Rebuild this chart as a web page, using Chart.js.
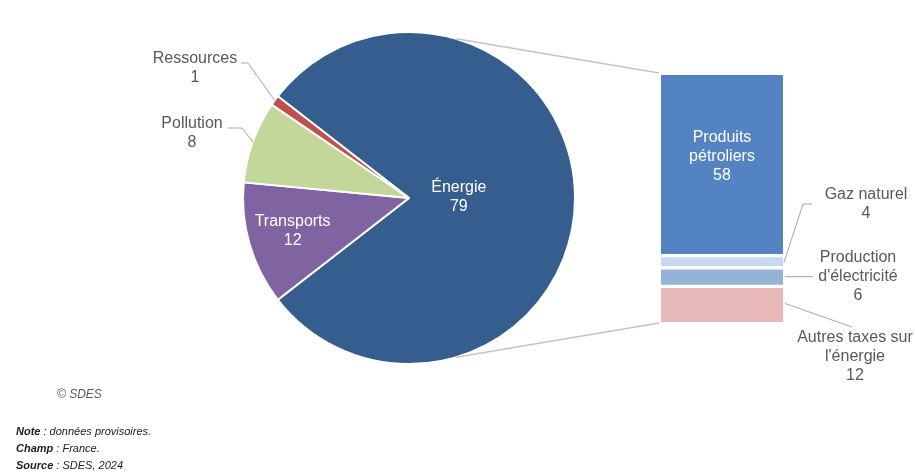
<!DOCTYPE html>
<html lang="fr">
<head>
<meta charset="utf-8">
<script src="https://cdn.jsdelivr.net/npm/chart.js@4/dist/chart.umd.min.js"></script>
<style>
  html, body { margin:0; padding:0; background:#fff; }
  #wrap { position:relative; width:915px; height:472px; overflow:hidden; font-family:"Liberation Sans", Arial, sans-serif; }
  canvas { position:absolute; left:0; top:0; }
  .copy { position:absolute; left:57px; top:387px; font-size:12px; font-style:italic; color:#595959; }
  .notes { position:absolute; left:16px; top:423px; font-size:11px; font-style:italic; color:#222; line-height:17px; }
  .notes b { font-weight:bold; }
</style>
</head>
<body>
<div id="wrap">
  <canvas id="pie" width="915" height="472"></canvas>
  <canvas id="bar" width="915" height="472"></canvas>
  <div class="copy">© SDES</div>
  <div class="notes">
    <div><b>Note</b> : données provisoires.</div>
    <div><b>Champ</b> : France.</div>
    <div><b>Source</b> : SDES, 2024</div>
  </div>
</div>
<script>
// ---- Data ----
const pieCategories = ["Énergie", "Transports", "Pollution", "Ressources"];
const pieValues = [79, 12, 8, 1];
const barCategories = ["Produits pétroliers", "Gaz naturel", "Production d'électricité", "Autres taxes sur l'énergie"];
const barValues = [58, 4, 6, 12];
const barLabelLines = [["Produits", "pétroliers"], ["Gaz naturel"], ["Production", "d'électricité"], ["Autres taxes sur", "l'énergie"]];

// ---- Styles ----
const pieColors = ["#355E8F", "#8064A2", "#C4D79B", "#C0504D"];
const barColors = ["#5383C3", "#C6D9F0", "#95B3D7", "#E6B8B7"];
const FONT = '16px "Liberation Sans", Arial, sans-serif';
const GREY_TXT = "#595959";
const LEADER = "#A6A6A6";

function drawLines(ctx, x, y, lines, color) {
  ctx.save();
  ctx.font = FONT;
  ctx.fillStyle = color;
  ctx.textAlign = "center";
  ctx.textBaseline = "middle";
  lines.forEach((t, i) => ctx.fillText(t, x, y + i * 19));
  ctx.restore();
}
function polyline(ctx, pts, color, w) {
  ctx.save();
  ctx.strokeStyle = color; ctx.lineWidth = w;
  ctx.beginPath();
  ctx.moveTo(pts[0][0], pts[0][1]);
  for (let i = 1; i < pts.length; i++) ctx.lineTo(pts[i][0], pts[i][1]);
  ctx.stroke();
  ctx.restore();
}

const pieLabelPlugin = {
  id: "pieLabels",
  afterDatasetsDraw(chart) {
    const ctx = chart.ctx;
    const arcs = chart.getDatasetMeta(0).data;
    const edge = (a) => {
      const m = (a.startAngle + a.endAngle) / 2;
      return [a.x + a.outerRadius * Math.cos(m), a.y + a.outerRadius * Math.sin(m), m];
    };
    // inside labels
    const inside = { 0: 0.30, 1: 0.73 };
    Object.keys(inside).forEach(k => {
      const a = arcs[k];
      const m = (a.startAngle + a.endAngle) / 2;
      const r = a.outerRadius * inside[k];
      drawLines(ctx, a.x + r * Math.cos(m), a.y + r * Math.sin(m) - 10,
        [pieCategories[k], String(pieValues[k])], "#FFFFFF");
    });
    // Ressources (outside)
    let e = edge(arcs[3]);
    polyline(ctx, [[241, 63], [248, 63], [e[0], e[1]]], LEADER, 1);
    drawLines(ctx, 195, 59, [pieCategories[3], String(pieValues[3])], GREY_TXT);
    // Pollution (outside)
    e = edge(arcs[2]);
    polyline(ctx, [[228, 128], [242, 128], [e[0], e[1]]], LEADER, 1);
    drawLines(ctx, 192, 124, [pieCategories[2], String(pieValues[2])], GREY_TXT);
  }
};

const pieChart = new Chart(document.getElementById("pie"), {
  type: "pie",
  data: {
    labels: pieCategories,
    datasets: [{
      data: pieValues,
      backgroundColor: pieColors,
      borderColor: "#FFFFFF",
      borderWidth: 2
    }]
  },
  options: {
    responsive: false,
    animation: false,
    rotation: -(pieValues[0] / pieValues.reduce((s, v) => s + v, 0)) * 180 + 90,
    radius: 166,
    layout: { padding: { left: 0, right: 97, top: 0, bottom: 76 } },
    plugins: { legend: { display: false }, tooltip: { enabled: false } },
    events: []
  },
  plugins: [pieLabelPlugin]
});

const barPlugin = {
  id: "barDecor",
  afterDraw(chart) {
    const ctx = chart.ctx;
    // connectors from the pie to the bar
    const arc = pieChart.getDatasetMeta(0).data[0];
    const cx = arc.x, cy = arc.y, R = arc.outerRadius;
    const ang = 73.5 * Math.PI / 180;
    const area = chart.chartArea;
    polyline(ctx, [[cx + R * Math.cos(-ang), cy + R * Math.sin(-ang)], [area.left - 2, area.top - 2]], "#C4C4C4", 1.5);
    polyline(ctx, [[cx + R * Math.cos(ang), cy + R * Math.sin(ang)], [area.left - 2, area.bottom + 1]], "#C4C4C4", 1.5);

    // segment helper: dataset index in chart = reversed order
    const n = barValues.length;
    const seg = (i) => chart.getDatasetMeta(n - 1 - i).data[0];

    // Produits pétroliers (inside)
    let b = seg(0);
    drawLines(ctx, b.x, (b.y + b.base) / 2 - 27, [...barLabelLines[0], String(barValues[0])], "#FFFFFF");
    // Gaz naturel
    b = seg(1);
    let ym = (b.y + b.base) / 2 + 2;
    polyline(ctx, [[area.right + 1, ym], [803, 204], [812, 204]], LEADER, 1);
    drawLines(ctx, 866, 195, [...barLabelLines[1], String(barValues[1])], GREY_TXT);
    // Production d'électricité
    b = seg(2);
    ym = (b.y + b.base) / 2 + 1;
    polyline(ctx, [[area.right + 2, ym], [813, ym]], LEADER, 1);
    drawLines(ctx, 858, 258, [...barLabelLines[2], String(barValues[2])], GREY_TXT);
    // Autres taxes
    b = seg(3);
    ym = (b.y + b.base) / 2;
    polyline(ctx, [[area.right + 2, ym], [852, 327]], LEADER, 1);
    drawLines(ctx, 855, 338, [...barLabelLines[3], String(barValues[3])], GREY_TXT);
  }
};

const barDatasets = barCategories.map((c, i) => ({
  label: c,
  data: [barValues[i]],
  backgroundColor: barColors[i],
  borderColor: "#FFFFFF",
  borderWidth: i === 0 ? 0 : { top: 3.5, left: 0, right: 0, bottom: 0 },
  borderSkipped: false,
  barPercentage: 1,
  categoryPercentage: 1
})).reverse();

new Chart(document.getElementById("bar"), {
  type: "bar",
  data: { labels: ["Énergie"], datasets: barDatasets },
  options: {
    responsive: false,
    animation: false,
    layout: { padding: { left: 661, right: 132, top: 75, bottom: 150 } },
    scales: {
      x: { display: false, stacked: true },
      y: { display: false, stacked: true, min: 0, max: barValues.reduce((s, v) => s + v, 0) }
    },
    plugins: { legend: { display: false }, tooltip: { enabled: false } },
    events: []
  },
  plugins: [barPlugin]
});
</script>
</body>
</html>
